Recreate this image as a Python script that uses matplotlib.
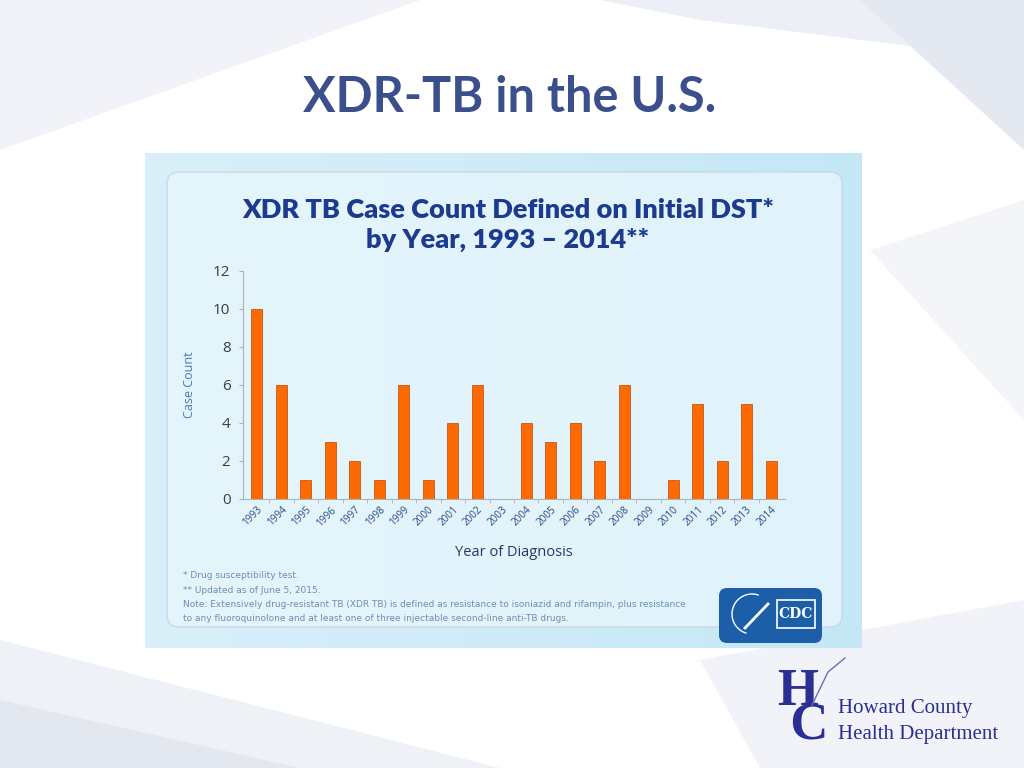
import matplotlib
matplotlib.use("Agg")
from matplotlib import pyplot as plt
from matplotlib.patches import FancyBboxPatch, Polygon, Rectangle
from matplotlib.colors import LinearSegmentedColormap
import numpy as np

years = [str(y) for y in range(1993, 2015)]
case_counts = [10, 6, 1, 3, 2, 1, 6, 1, 4, 6, 0, 4, 3, 4, 2, 6, 0, 1, 5, 2, 5, 2]
y_ticks = [0, 2, 4, 6, 8, 10, 12]

slide_title = "XDR-TB in the U.S."
chart_title = "XDR TB Case Count Defined on Initial DST*\nby Year, 1993 \u2013 2014**"
footnotes = [
    "* Drug susceptibility test.",
    "** Updated as of June 5, 2015.",
    "Note: Extensively drug-resistant TB (XDR TB) is defined as resistance to isoniazid and rifampin, plus resistance",
    "to any fluoroquinolone and at least one of three injectable second-line anti-TB drugs.",
]

W, H = 1024, 768
fig = plt.figure(figsize=(W / 100, H / 100), dpi=100)
fig.patch.set_facecolor("white")

# background layer in pixel coords
bg = fig.add_axes([0, 0, 1, 1])
bg.axis("off")

# slide swooshes
swooshes = [
    ([(0, 0), (420, 0), (0, 150)], "#f1f3f8"),
    ([(600, 0), (1024, 0), (1024, 60), (700, 20)], "#eceff5"),
    ([(860, 0), (1024, 0), (1024, 150)], "#e4e8f0"),
    ([(0, 640), (500, 768), (0, 768)], "#eef1f6"),
    ([(0, 700), (300, 768), (0, 768)], "#e3e8f0"),
    ([(700, 660), (1024, 600), (1024, 768), (760, 768)], "#f1f3f8"),
    ([(870, 250), (1024, 200), (1024, 420)], "#f3f5f9"),
]
for pts, c in swooshes:
    bg.add_patch(Polygon(pts, closed=True, facecolor=c, edgecolor="none", zorder=0))

bg.text(510, 97, slide_title, ha="center", va="center", fontsize=35,
        fontweight="bold", color="#3b4f8c", family="Lato")

# chart image background: light blue gradient
grad = np.vstack([np.linspace(0, 1, 256)] * 2)
cmap = LinearSegmentedColormap.from_list("cdc", ["#d9f0fa", "#c4e7f6"])
bg.imshow(grad, extent=(145, 862, 648, 153), cmap=cmap, aspect="auto", zorder=1)
bg.add_patch(FancyBboxPatch((167, 172), 675, 455,
                            boxstyle="round,pad=0,rounding_size=12",
                            facecolor="#e8f6fc", edgecolor="#c8d8e2", lw=1.2,
                            alpha=0.8, zorder=2))
bg.set_xlim(0, W)
bg.set_ylim(H, 0)

bg.text(508, 225, chart_title, ha="center", va="center", fontsize=19.5,
        fontweight="heavy", color="#1c3b8e", family="Lato", linespacing=1.25,
        zorder=3)

for i, line in enumerate(footnotes):
    bg.text(183, 576 + i * 14.3, line, ha="left", va="center", fontsize=6.5,
            color="#6d8fb3", family="Liberation Sans Narrow", zorder=3)

# CDC logo
bg.add_patch(FancyBboxPatch((719, 588), 103, 55,
                            boxstyle="round,pad=0,rounding_size=8",
                            facecolor="#1c5ea8", edgecolor="none", zorder=3))
bg.add_patch(Rectangle((777, 600), 38, 28, facecolor="#1c5ea8",
                       edgecolor="white", lw=1.2, zorder=4))
bg.text(796, 614, "CDC", ha="center", va="center", fontsize=10,
        fontweight="bold", color="white", family="DejaVu Serif", zorder=5)
theta = np.linspace(np.pi * 0.6, np.pi * 1.6, 50)
bg.plot(752 + 20 * np.cos(theta), 614 + 20 * np.sin(theta), color="white",
        lw=1.0, zorder=5)
bg.plot([745, 768], [628, 604], color="white", lw=2, zorder=5)

# Howard County logo
bg.text(777, 709, "H\n C", ha="left", va="center", fontsize=38,
        fontweight="bold", color="#2a2f93", family="Liberation Serif",
        linespacing=0.62, zorder=3)
bg.plot([812, 828, 845], [705, 672, 658], color="#6a70b8", lw=1, zorder=3)
bg.text(838, 709, "Howard County", ha="left", va="center", fontsize=15,
        color="#2a2f93", family="Liberation Serif", zorder=3)
bg.text(838, 734, "Health Department", ha="left", va="center", fontsize=15,
        color="#2a2f93", family="Liberation Serif", zorder=3)

# bar chart axes
left, right, top, bottom = 243, 785, 271, 499
ax = fig.add_axes([left / W, 1 - bottom / H, (right - left) / W, (bottom - top) / H])
ax.patch.set_alpha(0)
x = np.arange(len(years))
ax.bar(x, case_counts, width=0.45, color="#ff6a00", edgecolor="#c4561a",
       linewidth=0.6, zorder=3)
ax.set_xlim(-0.57, len(years) - 0.43)
ax.set_ylim(0, 12)
ax.set_yticks(y_ticks)
ax.set_xticks(x)
ax.set_xticklabels(years, rotation=45, ha="right", rotation_mode="anchor",
                   fontsize=7.2, color="#2d4d85", family="Open Sans")
ax.set_xticks(x[:-1] + 0.5, minor=True)
for lab in ax.get_yticklabels():
    lab.set_fontsize(11)
    lab.set_color("#333d55")
    lab.set_family("Open Sans")
ax.tick_params(axis="x", which="major", length=0, pad=4)
ax.tick_params(axis="x", which="minor", length=3, color="#a8b4bf")
ax.tick_params(axis="y", length=3, color="#a8b4bf", pad=6)
for s in ["top", "right"]:
    ax.spines[s].set_visible(False)
for s in ["left", "bottom"]:
    ax.spines[s].set_color("#a8b4bf")
    ax.spines[s].set_linewidth(0.8)
ax.set_ylabel("Case Count", fontsize=9, color="#4a7ab3", family="Open Sans",
              labelpad=12)
ax.set_xlabel("Year of Diagnosis", fontsize=10.5, color="#233a63",
              family="Open Sans", labelpad=12)

fig.savefig("out.png", dpi=100)
